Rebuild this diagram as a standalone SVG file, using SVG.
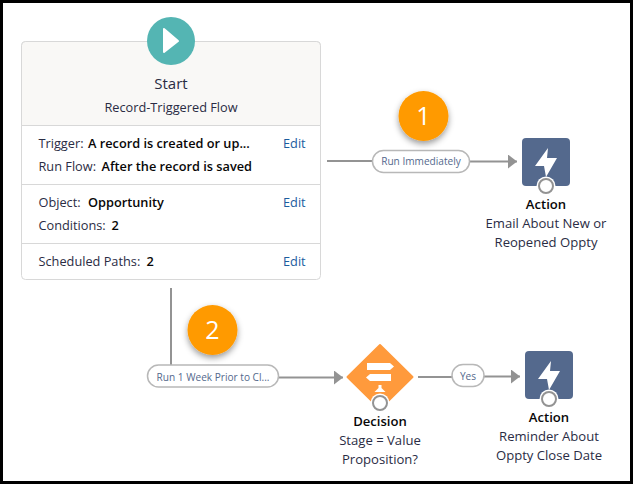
<svg xmlns="http://www.w3.org/2000/svg" width="633" height="484" viewBox="0 0 633 484">
<defs>
<style>
text{font-family:"Open Sans","Noto Sans","Liberation Sans",sans-serif;font-size:12.750px;fill:#2a2c44}
.c{text-anchor:middle}
.b{font-weight:600;fill:#080707}
.e{fill:#1b5c9e}
.p{font-size:10.100px;fill:#54698d}
.n{font-size:25px;fill:#fff}
.w{font-size:13.100px}
.line{fill:none;stroke:#939393;stroke-width:2}
.pill{fill:#fff;stroke:#b8b8b8;stroke-width:1.500}
.hole{fill:#fff;stroke:#939393;stroke-width:2}
.halo{fill:#fff}
.action{fill:#54698d}
.badge{fill:#ff9a03;filter:url(#sh)}
</style>
<filter id="sh" x="-30%" y="-30%" width="160%" height="170%"><feDropShadow dx="0" dy="3" stdDeviation="3" flood-color="#000" flood-opacity=".4"/></filter>
<marker id="arrow" markerUnits="userSpaceOnUse" markerWidth="10" markerHeight="14" refX="9" refY="7" orient="auto"><path d="M0 0L9 7L0 14Z" fill="#939393"/></marker>
<path id="bolt" d="M2-14L-11 4H-2L0 15L11-4H1Z" fill="#fff"/>
</defs>
<rect width="633" height="484" fill="#000"/>
<rect x="3" y="3" width="627" height="478" fill="#fff"/>
<g id="connectors">
<path class="line" d="M327 161H373"/>
<path class="line" d="M469 161.500H517" marker-end="url(#arrow)"/>
<path class="line" d="M171 288V365"/>
<path class="line" d="M278 377.500H343" marker-end="url(#arrow)"/>
<path class="line" d="M418 377H452"/>
<path class="line" d="M484 376.500H520" marker-end="url(#arrow)"/>
</g>
<g id="start">
<rect x="21.500" y="41.500" width="299" height="238" rx="4" fill="#fff" stroke="#d8d8d8"/>
<path d="M21.500 125.500V45.500a4 4 0 0 1 4-4H316.500a4 4 0 0 1 4 4V125.500Z" fill="#f9f8f6" stroke="#d8d8d8"/>
<path d="M22 184.500H320M22 243.500H320" stroke="#d8d8d8" fill="none"/>
<circle cx="171" cy="41" r="24" fill="#54b5b3"/>
<path d="M164 29V52L178 41Z" fill="#fff" stroke="#fff" stroke-linejoin="round" stroke-width="2"/>
<text class="c" x="171" y="89" style="font-size:15px">Start</text>
<text class="c" x="171" y="112">Record-Triggered Flow</text>
<text x="38.500" y="148">Trigger:</text><text class="b" x="88" y="148">A record is created or up...</text><text class="e" x="283" y="148">Edit</text>
<text x="38.500" y="171">Run Flow:</text><text class="b" x="101.500" y="171">After the record is saved</text>
<text x="38.500" y="207">Object:</text><text class="b" x="88" y="207">Opportunity</text><text class="e" x="283" y="207">Edit</text>
<text x="38.500" y="230">Conditions:</text><text class="b" x="111.500" y="230">2</text>
<text x="38.500" y="266">Scheduled Paths:</text><text class="b" x="146.500" y="266">2</text><text class="e" x="283" y="266">Edit</text>
</g>
<g id="pill-run-immediately">
<rect class="pill" x="372.500" y="150.500" width="97" height="22" rx="11"/>
<text class="c p" x="421" y="165">Run Immediately</text>
</g>
<g id="pill-run-week">
<rect class="pill" x="147.500" y="365" width="131" height="22" rx="11"/>
<text class="c p" x="213" y="380.500">Run 1 Week Prior to Cl...</text>
</g>
<g id="pill-yes">
<rect class="pill" x="452" y="364.500" width="32" height="22" rx="11"/>
<text class="c p" x="468" y="379.500">Yes</text>
</g>
<g id="badge-1">
<circle class="badge" cx="423.500" cy="116" r="25"/>
<text class="c n" x="423.500" y="124.500">1</text>
</g>
<g id="badge-2">
<circle class="badge" cx="212.500" cy="330" r="25"/>
<text class="c n" x="212.500" y="338.500">2</text>
</g>
<g id="action-1">
<rect class="action" x="522" y="138" width="48" height="48" rx="4"/>
<use href="#bolt" x="546" y="162"/>
<circle class="halo" cx="546" cy="186" r="9.500"/>
<circle class="hole" cx="546" cy="186" r="7"/>
<text class="c b w" x="546" y="209">Action</text>
<text class="c w" x="546" y="228">Email About New or</text>
<text class="c w" x="546" y="247">Reopened Oppty</text>
</g>
<g id="decision">
<path d="M380 345L412.500 377L380 409L347.500 377Z" fill="#ff9a3c" stroke="#ff9a3c" stroke-width="2" stroke-linejoin="round"/>
<path d="M367 363H390L394 366.500L390 370H367ZM391 374H370L366 377.500L370 381H391ZM378.500 385H381.500V388L385.500 392H374.500L378.500 388Z" fill="#fff"/>
<circle class="halo" cx="380" cy="403" r="9.500"/>
<circle class="hole" cx="380" cy="403" r="7"/>
<text class="c b w" x="380" y="426">Decision</text>
<text class="c w" x="380" y="445">Stage = Value</text>
<text class="c w" x="380" y="464">Proposition?</text>
</g>
<g id="action-2">
<rect class="action" x="525" y="351" width="48" height="48" rx="4"/>
<use href="#bolt" x="549" y="375"/>
<circle class="halo" cx="549" cy="399" r="9.500"/>
<circle class="hole" cx="549" cy="399" r="7"/>
<text class="c b w" x="549" y="422">Action</text>
<text class="c w" x="549" y="441">Reminder About</text>
<text class="c w" x="549" y="460">Oppty Close Date</text>
</g>
</svg>
